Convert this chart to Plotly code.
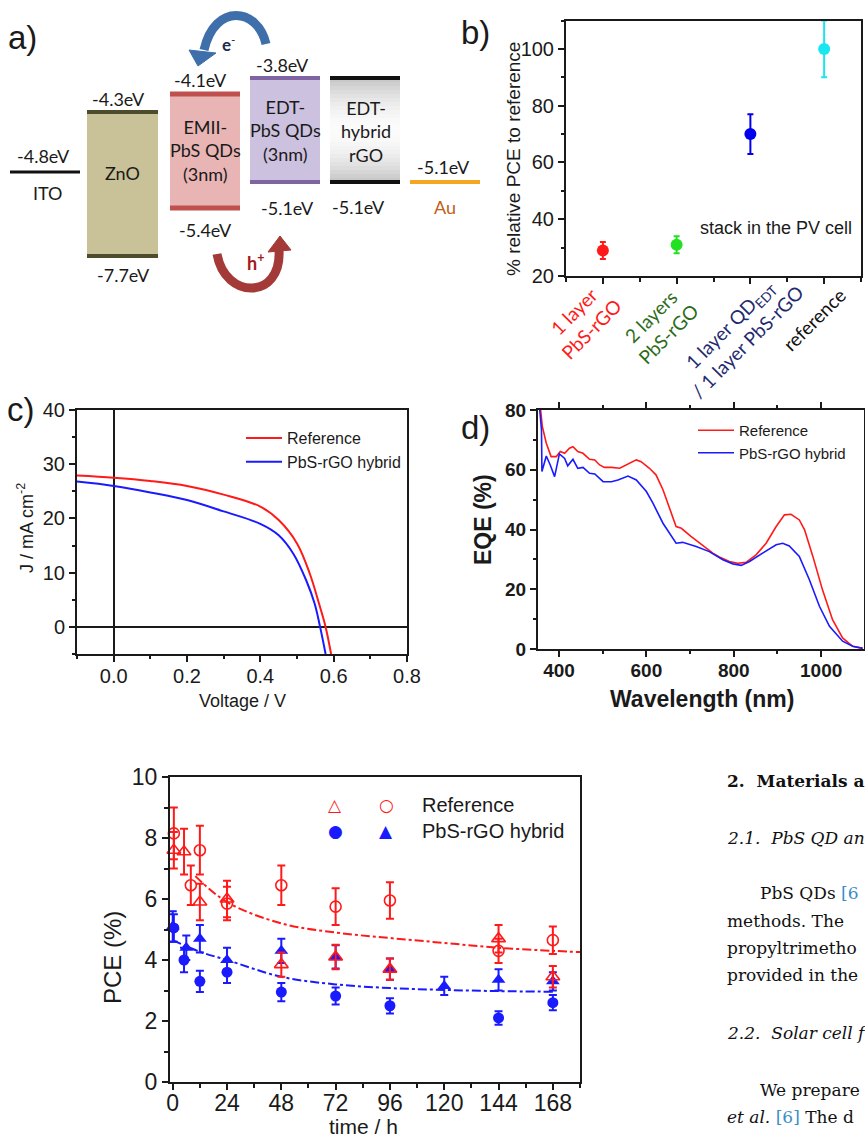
import plotly.graph_objects as go

W, H = 865, 1138

# ================= DATA =================
# Panel a: energy level diagram (schematic labels)
a_layers = ["ITO", "ZnO", "EMII-<br>PbS QDs<br>(3nm)", "EDT-<br>PbS QDs<br>(3nm)", "EDT-<br>hybrid<br>rGO", "Au"]
a_upper = ["-4.8eV", "-4.3eV", "-4.1eV", "-3.8eV", "", "-5.1eV"]
a_lower = ["", "-7.7eV", "-5.4eV", "-5.1eV", "-5.1eV", ""]

# Panel b: relative PCE
b_labels = ["1 layer<br>PbS-rGO", "2 layers<br>PbS-rGO",
            "1 layer QD<sub>EDT</sub><br>/ 1 layer PbS-rGO", "reference"]
b_pos = [1, 2, 3, 4]
b_pce = [29, 31, 70, 100]
b_err = [3, 3, 7, 10]

# Panel c: J-V curves
c_v_ref = [-0.1, 0.0, 0.1, 0.2, 0.3, 0.4, 0.45, 0.5, 0.535, 0.56, 0.578, 0.593]
c_j_ref = [27.9, 27.5, 26.9, 26.0, 24.4, 22.2, 19.7, 15.4, 9.8, 4.3, 0.0, -5.0]
c_v_hyb = [-0.1, 0.0, 0.1, 0.2, 0.3, 0.4, 0.45, 0.49, 0.525, 0.548, 0.563, 0.578]
c_j_hyb = [26.8, 26.0, 24.8, 23.4, 21.3, 19.0, 16.9, 13.5, 8.6, 4.3, 0.0, -5.0]

# Panel d: EQE spectra
d_wl_ref = [358, 362, 371, 382, 394, 403, 413, 424, 432, 443, 455, 470, 482, 493, 504, 520,
            539, 554, 577, 588, 607, 622, 638, 668, 680, 702, 737, 752, 767, 790, 809, 828,
            851, 874, 897, 916, 931, 950, 962, 981, 1003, 1026, 1049, 1072, 1095]
d_eqe_ref = [80, 74.4, 68.9, 64.4, 64.4, 66.1, 65.5, 67.2, 67.7, 66.1, 65.5, 63.5, 63.3, 61.6,
             60.8, 60.8, 60.5, 61.6, 63.3, 62.7, 60.5, 58.3, 53.3, 41.0, 40.4, 37.7, 33.8, 32.1,
             30.8, 29.3, 28.7, 29.0, 31.5, 35.4, 41.0, 44.9, 45.1, 43.2, 39.9, 31.0, 19.8, 9.8,
             3.7, 0.9, 0.2]
d_wl_hyb = [356, 360, 361, 371, 380, 390, 401, 413, 420, 432, 443, 455, 470, 482, 501, 520,
            535, 558, 577, 600, 615, 638, 668, 683, 714, 744, 775, 798, 817, 836, 866, 897,
            912, 927, 950, 973, 996, 1019, 1049, 1072, 1095]
d_eqe_hyb = [80, 73.3, 59.4, 64.6, 61.6, 57.7, 65.3, 63.8, 61.3, 63.5, 60.5, 60.8, 58.8, 58.6,
             56.0, 56.0, 56.6, 57.9, 56.6, 52.7, 48.8, 42.1, 35.4, 35.7, 34.3, 32.6, 29.9, 28.5,
             28.0, 29.3, 32.1, 34.9, 35.4, 34.5, 31.0, 23.2, 14.3, 7.6, 2.6, 0.9, 0.2]

# Panel e: PCE vs time
e_ref_tri_t = [0.5, 5, 12, 24, 48, 72, 96, 144, 168]
e_ref_tri_v = [7.6, 7.55, 5.9, 6.0, 3.85, 4.1, 3.7, 4.7, 3.45]
e_ref_tri_e = [0.6, 0.75, 0.6, 0.6, 0.4, 0.4, 0.35, 0.45, 0.35]
e_ref_cir_t = [0.5, 8, 12, 24, 48, 72, 96, 144, 168]
e_ref_cir_v = [8.15, 6.45, 7.6, 5.85, 6.45, 5.75, 5.95, 4.3, 4.65]
e_ref_cir_e = [0.85, 0.65, 0.8, 0.55, 0.65, 0.6, 0.6, 0.4, 0.45]
e_hyb_cir_t = [0.5, 5, 12, 24, 48, 72, 96, 144, 168]
e_hyb_cir_v = [5.05, 4.0, 3.3, 3.6, 2.95, 2.82, 2.5, 2.1, 2.6]
e_hyb_cir_e = [0.45, 0.4, 0.35, 0.35, 0.3, 0.28, 0.25, 0.22, 0.25]
e_hyb_tri_t = [0, 6, 12, 24, 48, 72, 96, 120, 144, 168]
e_hyb_tri_v = [5.1, 4.4, 4.7, 4.0, 4.3, 4.1, 3.7, 3.15, 3.35, 3.3]
e_hyb_tri_e = [0.5, 0.4, 0.45, 0.4, 0.4, 0.38, 0.35, 0.3, 0.35, 0.3]
e_fit_ref_t = [10, 24, 48, 72, 96, 120, 144, 168, 180]
e_fit_ref_v = [6.75, 5.9, 5.2, 4.9, 4.72, 4.56, 4.4, 4.3, 4.26]
e_fit_hyb_t = [0, 12, 24, 48, 72, 96, 120, 144, 168]
e_fit_hyb_v = [4.65, 4.27, 4.0, 3.45, 3.2, 3.08, 3.02, 2.98, 2.96]
e_ticks = [0, 24, 48, 72, 96, 120, 144, 168]

# ================= HELPERS =================
def PX(x):
    return x / W

def PY(y):
    return 1 - y / H

SANS = "Liberation Sans"
CAL = "Lato"
SERIF = "DejaVu Serif"
INK = "#1a1a1a"

fig = go.Figure()
shapes = []
ann = []

def A(**kw):
    d = dict(showarrow=False, xanchor="center", yanchor="middle")
    d.update(kw)
    ann.append(d)

def axis(domain, rng, **kw):
    d = dict(domain=domain, range=rng, showline=True, linecolor=INK, linewidth=2,
             mirror=True, ticks="outside", ticklen=6, tickwidth=1.5, tickcolor=INK,
             showgrid=False, zeroline=False, automargin=False,
             tickfont=dict(family=SANS, size=20, color=INK))
    d.update(kw)
    return d

# ================= PANEL a =================
a_geom = [
    dict(kind="line", x0=10, x1=80, y=172, color="#111111", w=3,
         up=(43, 156), name=(48, 193), low=None, ncol=INK),
    dict(kind="box", x0=87, x1=158, y0=112, y1=256, fill="#c9c197", edge="#4d4d2e", w=4,
         up=(118, 99), name=(122, 173), low=(123, 275), ncol=INK),
    dict(kind="box", x0=170, x1=240, y0=94, y1=208, fill="#e8b5b4", edge="#c0504d", w=5,
         up=(200, 80), name=(205, 150), low=(205, 230), ncol=INK),
    dict(kind="box", x0=250, x1=320, y0=78, y1=182, fill="#ccc1de", edge="#8064a2", w=4,
         up=(282, 65), name=(285, 130), low=(287, 208), ncol=INK),
    dict(kind="grad", x0=330, x1=400, y0=78, y1=182, fill=None, edge="#111111", w=4,
         up=None, name=(366, 131), low=(358, 207), ncol=INK),
    dict(kind="line", x0=410, x1=480, y=182, color="#f5a623", w=4,
         up=(443, 167), name=(445, 207), low=None, ncol="#c0601a"),
]

for i, g in enumerate(a_geom):
    if g["kind"] == "line":
        shapes.append(dict(type="line", xref="x5", yref="y5", x0=g["x0"], x1=g["x1"],
                           y0=g["y"], y1=g["y"], line=dict(color=g["color"], width=g["w"])))
    else:
        if g["kind"] == "grad":
            n = 26
            hh = (g["y1"] - g["y0"]) / n
            for k in range(n):
                f = abs((k + 0.5) / n - 0.5) * 2  # 0 center -> 1 edge
                c = int(252 - 55 * f ** 1.8)
                shapes.append(dict(type="rect", xref="x5", yref="y5", x0=g["x0"], x1=g["x1"],
                                   y0=g["y0"] + k * hh, y1=g["y0"] + (k + 1) * hh + 0.5,
                                   line=dict(width=0), fillcolor=f"rgb({c},{c},{c})", layer="below"))
        else:
            shapes.append(dict(type="rect", xref="x5", yref="y5", x0=g["x0"], x1=g["x1"],
                               y0=g["y0"], y1=g["y1"], line=dict(width=0), fillcolor=g["fill"],
                               layer="below"))
        for yy in (g["y0"], g["y1"]):
            shapes.append(dict(type="line", xref="x5", yref="y5", x0=g["x0"], x1=g["x1"],
                               y0=yy, y1=yy, line=dict(color=g["edge"], width=g["w"])))
    afont = dict(family=CAL, size=18, color=INK)
    if g["up"] and a_upper[i]:
        A(xref="x5", yref="y5", x=g["up"][0], y=g["up"][1], text=a_upper[i], font=afont)
    if g["low"] and a_lower[i]:
        A(xref="x5", yref="y5", x=g["low"][0], y=g["low"][1], text=a_lower[i], font=afont)
    A(xref="x5", yref="y5", x=g["name"][0], y=g["name"][1], text=a_layers[i],
      font=dict(family=CAL, size=18, color=g["ncol"]))

# curved arrows (electron / hole transfer)
shapes.append(dict(type="path", xref="x5", yref="y5",
                   path="M 266,44 C 258,8 215,2 204,50",
                   line=dict(color="#3e6fab", width=9)))
shapes.append(dict(type="path", xref="x5", yref="y5",
                   path="M 189,50 L 216,53 L 198,66 Z",
                   fillcolor="#3e6fab", line=dict(color="#3e6fab", width=1)))
shapes.append(dict(type="path", xref="x5", yref="y5",
                   path="M 217,254 C 225,300 282,300 279,250",
                   line=dict(color="#a33a37", width=9)))
shapes.append(dict(type="path", xref="x5", yref="y5",
                   path="M 268,252 L 291,250 L 280,236 Z",
                   fillcolor="#a33a37", line=dict(color="#a33a37", width=1)))
A(xref="x5", yref="y5", x=229, y=43, text="<b>e</b><sup>-</sup>",
  font=dict(family=CAL, size=17, color="#1f2a4f"))
A(xref="x5", yref="y5", x=255, y=262, text="<b>h</b><sup><b>+</b></sup>",
  font=dict(family=CAL, size=18, color="#a01c1c"))

# ================= PANEL b =================
b_colors = ["#ff1a1a", "#22e022", "#0000ee", "#19e6f0"]
b_lab_colors = ["#ff1a1a", "#2c6b20", "#1f2a70", "#111111"]
for i in range(4):
    fig.add_trace(go.Scatter(
        x=[b_pos[i]], y=[b_pce[i]], mode="markers", xaxis="x2", yaxis="y2",
        marker=dict(size=12, color=b_colors[i]),
        error_y=dict(type="data", array=[b_err[i]], color=b_colors[i], thickness=2, width=3),
        showlegend=False, cliponaxis=False))

b_lab_pos = [(-20, 320), (-17, 325), (-12, 333), (-10, 320)]
for i in range(4):
    A(xref="x2", yref="paper", x=b_pos[i], xshift=b_lab_pos[i][0],
      y=PY(b_lab_pos[i][1]), text=b_labels[i], textangle=-45,
      font=dict(family=CAL, size=19, color=b_lab_colors[i]))
A(xref="paper", yref="paper", x=PX(698), y=PY(228), xanchor="left",
  text="stack in the PV cell", font=dict(family=SANS, size=18, color=INK))
A(xref="paper", yref="paper", x=PX(513), y=PY(159), textangle=-90,
  text="% relative PCE to reference", font=dict(family=SANS, size=19, color=INK))

# ================= PANEL c =================
fig.add_trace(go.Scatter(x=c_v_ref, y=c_j_ref, mode="lines", name="Reference",
                         line=dict(color="#ff1a1a", width=2, shape="spline"),
                         xaxis="x", yaxis="y", legend="legend"))
fig.add_trace(go.Scatter(x=c_v_hyb, y=c_j_hyb, mode="lines", name="PbS-rGO hybrid",
                         line=dict(color="#1a1aff", width=2, shape="spline"),
                         xaxis="x", yaxis="y", legend="legend"))
A(xref="paper", yref="paper", x=PX(25), y=PY(528), textangle=-90,
  text="J / mA cm<sup>-2</sup>", font=dict(family=SANS, size=18, color=INK))
A(xref="paper", yref="paper", x=PX(242), y=PY(701),
  text="Voltage / V", font=dict(family=SANS, size=18, color=INK))

# ================= PANEL d =================
fig.add_trace(go.Scatter(x=d_wl_ref, y=d_eqe_ref, mode="lines", name="Reference",
                         line=dict(color="#ff1a1a", width=1.6),
                         xaxis="x3", yaxis="y3", legend="legend2"))
fig.add_trace(go.Scatter(x=d_wl_hyb, y=d_eqe_hyb, mode="lines", name="PbS-rGO hybrid",
                         line=dict(color="#1a1aff", width=1.6),
                         xaxis="x3", yaxis="y3", legend="legend2"))
A(xref="paper", yref="paper", x=PX(483), y=PY(520), textangle=-90,
  text="<b>EQE (%)</b>", font=dict(family=SANS, size=23, color=INK))
A(xref="paper", yref="paper", x=PX(702), y=PY(699),
  text="<b>Wavelength (nm)</b>", font=dict(family=SANS, size=23, color=INK))

# ================= PANEL e =================
RED, BLUE = "#ff1a1a", "#1a1aff"
def eb(arr, col):
    return dict(type="data", array=arr, color=col, thickness=2, width=4)

fig.add_trace(go.Scatter(x=e_fit_ref_t, y=e_fit_ref_v, mode="lines", xaxis="x4", yaxis="y4",
                         line=dict(color=RED, width=2, dash="dashdot", shape="spline"),
                         showlegend=False))
fig.add_trace(go.Scatter(x=e_fit_hyb_t, y=e_fit_hyb_v, mode="lines", xaxis="x4", yaxis="y4",
                         line=dict(color=BLUE, width=2, dash="dashdot", shape="spline"),
                         showlegend=False))
fig.add_trace(go.Scatter(x=e_hyb_cir_t, y=e_hyb_cir_v, mode="markers", xaxis="x4", yaxis="y4",
                         marker=dict(symbol="circle", size=11, color=BLUE),
                         error_y=eb(e_hyb_cir_e, BLUE), showlegend=False, cliponaxis=False))
fig.add_trace(go.Scatter(x=e_hyb_tri_t, y=e_hyb_tri_v, mode="markers", xaxis="x4", yaxis="y4",
                         marker=dict(symbol="triangle-up", size=12, color=BLUE),
                         error_y=eb(e_hyb_tri_e, BLUE), showlegend=False, cliponaxis=False))
fig.add_trace(go.Scatter(x=e_ref_tri_t, y=e_ref_tri_v, mode="markers", xaxis="x4", yaxis="y4",
                         marker=dict(symbol="triangle-up-open", size=12, color=RED,
                                     line=dict(width=1.6, color=RED)),
                         error_y=eb(e_ref_tri_e, RED), showlegend=False, cliponaxis=False))
fig.add_trace(go.Scatter(x=e_ref_cir_t, y=e_ref_cir_v, mode="markers", xaxis="x4", yaxis="y4",
                         marker=dict(symbol="circle-open", size=11, color=RED,
                                     line=dict(width=1.6, color=RED)),
                         error_y=eb(e_ref_cir_e, RED), showlegend=False, cliponaxis=False))

# legend of panel e (two symbols per entry)
leg_font = dict(family="DejaVu Sans", size=17)
A(xref="paper", yref="paper", x=PX(335), y=PY(805), text="△", font=dict(leg_font, color=RED))
A(xref="paper", yref="paper", x=PX(386), y=PY(805), text="○", font=dict(leg_font, color=RED))
A(xref="paper", yref="paper", x=PX(335), y=PY(831), text="●", font=dict(leg_font, color=BLUE))
A(xref="paper", yref="paper", x=PX(386), y=PY(831), text="▲", font=dict(leg_font, color=BLUE))
A(xref="paper", yref="paper", x=PX(420), y=PY(805), xanchor="left", text="Reference",
  font=dict(family=SANS, size=20, color=INK))
A(xref="paper", yref="paper", x=PX(420), y=PY(831), xanchor="left", text="PbS-rGO hybrid",
  font=dict(family=SANS, size=20, color=INK))
A(xref="paper", yref="paper", x=PX(112), y=PY(957), textangle=-90,
  text="PCE (%)", font=dict(family=SANS, size=24, color=INK))
A(xref="paper", yref="paper", x=PX(363), y=PY(1126),
  text="time / h", font=dict(family=SANS, size=21, color=INK))

# ================= panel letters =================
for lt, (lx, ly) in {"a)": (22, 38), "b)": (476, 32), "c)": (21, 410), "d)": (476, 428)}.items():
    A(xref="paper", yref="paper", x=PX(lx), y=PY(ly), text=lt,
      font=dict(family=SANS, size=33, color=INK))

# ================= right text column (cut by the page edge) =================
BL = "#3b8ec4"
txt_lines = [
    (725, 781, "<b>2.  Materials a</b>"),
    (725, 838, "<i>2.1.  PbS QD an</i>"),
    (758, 893, f"PbS QDs <span style='color:{BL}'>[6</span>"),
    (725, 921, "methods. The"),
    (725, 948, "propyltrimetho"),
    (725, 975, "provided in the"),
    (725, 1033, "<i>2.2.  Solar cell f</i>"),
    (758, 1090, "We prepare"),
    (725, 1117, f"<i>et al.</i> <span style='color:{BL}'>[6]</span> The d"),
]
for x0, y0, t in txt_lines:
    A(xref="paper", yref="paper", x=PX(x0), y=PY(y0), xanchor="left",
      text=t, font=dict(family=SERIF, size=17, color="#111111"))

# ================= LAYOUT =================
fig.update_layout(
    width=W, height=H, autosize=False,
    margin=dict(l=0, r=0, t=0, b=0, pad=0),
    paper_bgcolor="white", plot_bgcolor="rgba(0,0,0,0)",
    # panel c
    xaxis=axis([PX(77), PX(407)], [-0.1, 0.8], dtick=0.2, tick0=0, tickformat=".1f",
               zeroline=True, zerolinecolor=INK, zerolinewidth=1.5, ticklabelstandoff=-3,
               minor=dict(dtick=0.1, ticks="outside", ticklen=3, tickcolor=INK), anchor="y"),
    yaxis=axis([PY(654), PY(410)], [-5, 40], dtick=10, tick0=0,
               zeroline=True, zerolinecolor=INK, zerolinewidth=1.5,
               minor=dict(dtick=5, ticks="outside", ticklen=3, tickcolor=INK), anchor="x"),
    # panel b
    xaxis2=axis([PX(566), PX(861)], [0.5, 4.5], tickvals=b_pos, showticklabels=False,
                minor=dict(tickvals=[0.5, 1.5, 2.5, 3.5, 4.5], ticks="outside", ticklen=4,
                           tickcolor=INK), anchor="y2"),
    yaxis2=axis([PY(276), PY(20.5)], [20, 110], tickvals=[20, 40, 60, 80, 100],
                minor=dict(dtick=10, ticks="outside", ticklen=3, tickcolor=INK),
                tickfont=dict(family=SANS, size=20, color=INK), anchor="x2"),
    # panel d
    xaxis3=axis([PX(538), PX(864)], [352, 1098], dtick=200, tick0=0, mirror="allticks",
                tickfont=dict(family=SANS, size=19, color=INK, weight="bold"),
                ticklabelstandoff=-3,
                minor=dict(dtick=100, ticks="outside", ticklen=3, tickcolor=INK), anchor="y3"),
    yaxis3=axis([PY(649), PY(410)], [0, 80], dtick=20, tick0=0, mirror="allticks",
                tickfont=dict(family=SANS, size=19, color=INK, weight="bold"),
                minor=dict(dtick=10, ticks="outside", ticklen=3, tickcolor=INK), anchor="x3"),
    # panel e
    xaxis4=axis([PX(170), PX(580)], [-1.2, 180], tickvals=e_ticks,
                tickfont=dict(family=SANS, size=23, color=INK), ticklabelstandoff=-7,
                minor=dict(dtick=12, tick0=0, ticks="outside", ticklen=4, tickcolor=INK),
                anchor="y4"),
    yaxis4=axis([PY(1082), PY(777)], [0, 10], dtick=2, tick0=0,
                tickfont=dict(family=SANS, size=23, color=INK),
                minor=dict(dtick=1, ticks="outside", ticklen=4, tickcolor=INK), anchor="x4"),
    # panel a (invisible pixel frame)
    xaxis5=dict(domain=[0, 1], range=[0, 865], visible=False, fixedrange=True,
                automargin=False, anchor="y5"),
    yaxis5=dict(domain=[PY(300), 1], range=[300, 0], visible=False, fixedrange=True,
                automargin=False, anchor="x5"),
    legend=dict(x=PX(241), y=PY(421), xanchor="left", yanchor="top",
                bgcolor="rgba(0,0,0,0)", font=dict(family=SANS, size=16, color=INK),
                tracegroupgap=0, itemwidth=36),
    legend2=dict(x=PX(693), y=PY(414), xanchor="left", yanchor="top",
                 bgcolor="rgba(0,0,0,0)", font=dict(family=SANS, size=15, color=INK),
                 tracegroupgap=0, itemwidth=36),
    shapes=shapes,
    annotations=ann,
)

fig.write_html("out.html", config={"displayModeBar": False},
               post_script="document.body.style.margin='0';document.body.style.padding='0';"
                           "document.body.style.overflow='hidden';")
